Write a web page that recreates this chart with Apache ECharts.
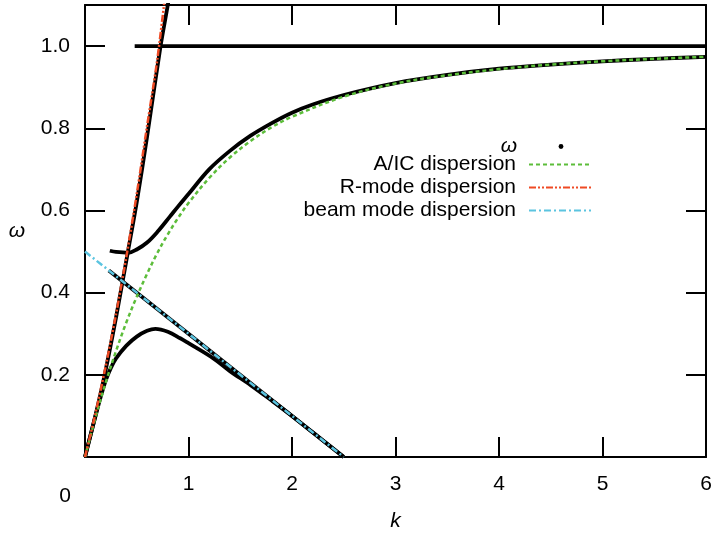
<!DOCTYPE html>
<html>
<head>
<meta charset="utf-8">
<script src="https://cdn.jsdelivr.net/npm/echarts@6/dist/echarts.min.js"></script>
<style>
html,body{margin:0;padding:0;background:#fff;}
#chart{width:715px;height:537px;}
</style>
</head>
<body>
<div id="chart"></div>
<script>
// numerical solution ([k, omega])
var wSteep = [[0,0],[0.1,0.1],[0.19,0.2],[0.3,0.34],[0.415,0.5],[0.5,0.62],[0.6,0.78],[0.73,1.0],[0.8,1.1],[0.83,1.15]];
var wFlat = [[0.48,1.0],[6,1.0]];
var wBeam = [[0.23,0.454],[1.0,0.3],[2.0,0.1],[2.5,0.0]];
var wLower = [[0,0],[0.05,0.05],[0.1,0.098],[0.15,0.145],[0.2,0.186],[0.25,0.217],[0.3,0.24],[0.4,0.271],[0.5,0.293],[0.6,0.307],[0.68,0.312],[0.8,0.305],[0.92,0.289],[1.0,0.277],[1.24,0.24],[1.4,0.209],[1.6,0.175],[1.8,0.138],[2.0,0.1],[2.2,0.06],[2.5,0.0]];
var wMiddle = [[0.24,0.502],[0.3,0.499],[0.42,0.497],[0.5,0.505],[0.6,0.522],[0.7,0.548],[0.82,0.585],[0.9,0.61],[1.0,0.64],[1.2,0.7],[1.4,0.745],[1.6,0.782],[1.8,0.812],[2.0,0.838],[2.2,0.858],[2.5,0.881],[3,0.91],[3.5,0.93],[4,0.945],[4.5,0.955],[5,0.963],[5.5,0.969],[6,0.974]];
// dispersion curves
var aicPts = [[0,0],[0.1,0.095],[0.2,0.181],[0.3,0.258],[0.4,0.328],[0.5,0.39],[0.6,0.446],[0.7,0.497],[0.8,0.542],[0.9,0.582],[1.0,0.618],[1.2,0.679],[1.4,0.729],[1.6,0.769],[1.8,0.802],[2.0,0.828],[2.5,0.877],[3,0.909],[3.5,0.929],[4,0.944],[4.5,0.955],[5,0.963],[5.5,0.969],[6,0.974]];
var rPts = [[0,0],[0.1,0.105],[0.2,0.221],[0.3,0.348],[0.4,0.488],[0.5,0.64],[0.6,0.806],[0.7,0.97],[0.8,1.18]];
var beamPts = [[0,0.5],[2.5,0]];
var xTicks = [0,1,2,3,4,5,6];
var yTicks = [0.2,0.4,0.6,0.8,1.0];

var font = 'Liberation Sans';
var e = echarts.init(document.getElementById('chart'));

function blackLine(data, smooth){
    return {name:'ω',type:'line',data:data,symbol:'none',smooth:smooth,z:2,
        itemStyle:{color:'#000'},lineStyle:{color:'#000',width:3.8}};
}
var axisCommon = {
    axisLine:{show:true,onZero:false,lineStyle:{color:'#000',width:2}},
    axisTick:{show:true,inside:true,length:20,lineStyle:{color:'#000',width:2}},
    splitLine:{show:false}
};

var option = {
    animation:false,
    backgroundColor:'#fff',
    grid:{left:85,right:9,top:5,bottom:69,containLabel:false},
    legend:[
        {data:['ω'],orient:'vertical',right:118,top:131,align:'right',
         itemWidth:62,itemHeight:6,lineStyle:{width:0,opacity:0},itemStyle:{color:'#000'},
         textStyle:{fontFamily:font,fontSize:21,fontStyle:'italic',color:'#000',padding:[0,8,0,0]}},
        {data:['A/IC dispersion','R-mode dispersion','beam mode dispersion'],orient:'vertical',
         right:118,top:149,align:'right',itemWidth:62,itemHeight:14,itemGap:2,
         itemStyle:{opacity:0},
         textStyle:{fontFamily:font,fontSize:21,color:'#000',padding:[0,8,0,0]}}
    ],
    xAxis:[
        Object.assign({type:'value',min:0,max:6,interval:1,position:'bottom',
            name:'k',nameLocation:'middle',nameGap:54,
            nameTextStyle:{fontFamily:font,fontSize:21,fontStyle:'italic',color:'#000'},
            axisLabel:{fontFamily:font,fontSize:21,color:'#000',margin:17,
                formatter:function(v){return xTicks.indexOf(v)>0 ? String(v) : '';}}},axisCommon),
        Object.assign({type:'value',min:0,max:6,interval:1,position:'top',axisLabel:{show:false}},axisCommon)
    ],
    yAxis:[
        Object.assign({type:'value',min:0,max:1.1,interval:0.2,position:'left',
            name:'ω',nameLocation:'middle',nameRotate:0,nameGap:60,
            nameTextStyle:{fontFamily:font,fontSize:21,fontStyle:'italic',color:'#000'},
            axisLabel:{fontFamily:font,fontSize:21,color:'#000',margin:15,
                formatter:function(v){
                    for(var i=0;i<yTicks.length;i++){ if(Math.abs(yTicks[i]-v)<1e-6) return v.toFixed(1); }
                    return '';
                }}},axisCommon),
        Object.assign({type:'value',min:0,max:1.1,interval:0.2,position:'right',axisLabel:{show:false}},axisCommon)
    ],
    graphic:[
        {type:'text',x:65,y:496,style:{text:'0',fontFamily:font,fontSize:21,fill:'#000',align:'center',verticalAlign:'middle'}}
    ],
    series:[
        blackLine(wSteep,0.3),
        blackLine(wFlat,false),
        blackLine(wBeam,false),
        blackLine(wLower,0.35),
        blackLine(wMiddle,0.35),
        {name:'A/IC dispersion',type:'line',data:aicPts,symbol:'none',smooth:0.35,z:3,
         itemStyle:{color:'#5cbd3a'},lineStyle:{color:'#5cbd3a',width:2.5,type:[4,3]}},
        {name:'R-mode dispersion',type:'line',data:rPts,symbol:'none',smooth:0.3,z:3,
         itemStyle:{color:'#ef4a24'},lineStyle:{color:'#ef4a24',width:2.5,type:[7,2,2,2,2,2]}},
        {name:'beam mode dispersion',type:'line',data:beamPts,symbol:'none',z:3,
         itemStyle:{color:'#5bc4e0'},lineStyle:{color:'#5bc4e0',width:2.5,type:[7,3,2,3]}}
    ]
};
e.setOption(option);
</script>
</body>
</html>
